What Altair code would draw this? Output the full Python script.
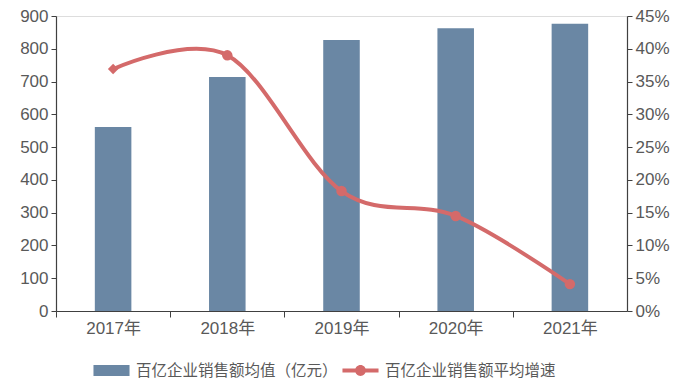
import altair as alt
import pandas as pd

years = ["2017年", "2018年", "2019年", "2020年", "2021年"]
avg_sales = [561, 714, 827, 863, 876]
growth = [0.369, 0.390, 0.183, 0.145, 0.041]
series_names = ["百亿企业销售额均值（亿元）", "百亿企业销售额平均增速"]
colors = ["#6a87a4", "#d46a6a"]
left_ticks = [0, 100, 200, 300, 400, 500, 600, 700, 800, 900]
right_ticks = [0, 0.05, 0.10, 0.15, 0.20, 0.25, 0.30, 0.35, 0.40, 0.45]

df = pd.DataFrame({"year": years, "sales": avg_sales, "growth": growth})
df["bar_series"] = series_names[0]
df["line_series"] = series_names[1]

FONT = "Liberation Sans, Noto Sans CJK SC, sans-serif"
GRAY = "#595959"
AXIS = "#404040"
AX_FS = 17

BAR_PATH = "M-1,-0.3L1,-0.3L1,0.3L-1,0.3Z"
LINE_PATH = ("M-1,-0.11L1,-0.11L1,0.11L-1,0.11Z "
             "M0.3,0A0.3,0.3 0 1,1 -0.3,0A0.3,0.3 0 1,1 0.3,0Z")

x_enc = alt.X(
    "year:N", sort=years, title=None,
    scale=alt.Scale(paddingInner=0.68, paddingOuter=0.34),
    axis=alt.Axis(labelAngle=0, tickOffset=-57, labelOffset=57, tickSize=6,
                  labelPadding=3, labelFontSize=AX_FS, labelColor=GRAY, labelFont=FONT,
                  domainColor=AXIS, tickColor=AXIS, domainWidth=1.2, grid=False),
)

def make_legend(x, path):
    return alt.Legend(
        orient="none", legendX=x, legendY=336, direction="horizontal", title=None,
        labelFontSize=15.5, labelColor=GRAY, labelFont=FONT, labelLimit=400,
        symbolSize=1300, labelOffset=6, symbolType=path, symbolStrokeWidth=0,
        symbolOpacity=1,
    )

base = alt.Chart(df)

bars = base.mark_bar().encode(
    x=x_enc,
    y=alt.Y("sales:Q", title=None,
            scale=alt.Scale(domain=[0, 900], nice=False),
            axis=alt.Axis(values=left_ticks, tickSize=5, labelPadding=3, labelFontSize=AX_FS,
                          labelColor=GRAY, labelFont=FONT, domainColor=AXIS, tickColor=AXIS,
                          grid=False, domainWidth=1.2, labelOverlap=False)),
    fill=alt.Fill("bar_series:N", scale=alt.Scale(domain=[series_names[0]], range=[colors[0]]),
                  legend=make_legend(37, BAR_PATH)),
)

y_right = alt.Y("growth:Q", title=None,
                scale=alt.Scale(domain=[0, 0.45], nice=False),
                axis=alt.Axis(orient="right", values=right_ticks, format=".0%", tickSize=5,
                              labelPadding=3, labelFontSize=AX_FS, labelColor=GRAY, labelFont=FONT,
                              domainColor=AXIS, tickColor=AXIS, grid=False, domainWidth=1.2,
                              labelOverlap=False, labelBound=False))

line = base.mark_line(interpolate="cardinal", tension=0, strokeWidth=4, color=colors[1]).encode(
    x=alt.X("year:N", sort=years), y=y_right,
)
points = base.mark_point(filled=True, size=110, opacity=1).encode(
    x=alt.X("year:N", sort=years), y=y_right,
    color=alt.Color("line_series:N", scale=alt.Scale(domain=[series_names[1]], range=[colors[1]]),
                    legend=make_legend(286, LINE_PATH)),
    shape=alt.condition(alt.datum.year == years[0], alt.value("diamond"), alt.value("circle")),
)

right_layer = alt.layer(line, points)

chart = alt.layer(bars, right_layer).resolve_scale(y="independent").properties(
    width=571, height=295,
    autosize=alt.AutoSizeParams(type="none"),
    padding={"left": 48, "top": 8, "right": 52, "bottom": 70},
).configure_view(stroke="transparent", strokeWidth=0).configure(background="white")

chart.save("out.html", embed_options={"renderer": "svg", "actions": False})
